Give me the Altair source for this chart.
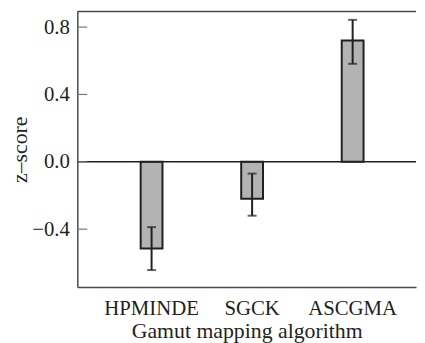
import altair as alt
import pandas as pd

categories = ["HPMINDE", "SGCK", "ASCGMA"]
means = [-0.515, -0.219, 0.72]
err_low = [-0.643, -0.32, 0.582]
err_high = [-0.388, -0.07, 0.843]
y_ticks = [-0.4, 0.0, 0.4, 0.8]
y_domain = [-0.743, 0.892]

df = pd.DataFrame({"cat": categories, "mean": means, "lo": err_low, "hi": err_high})
ticks_df = pd.DataFrame({"v": y_ticks})

FONT = "Liberation Serif"
DARK = "#231f20"
FRAME = "#4a4a4a"
W, H = 342, 278

xenc = alt.X("cat:N", sort=categories,
             scale=alt.Scale(paddingInner=0.783, paddingOuter=0.576, align=0.547),
             axis=alt.Axis(title="Gamut mapping algorithm", labelAngle=0, ticks=False,
                           domain=True, domainColor=FRAME, domainWidth=1.5,
                           labelPadding=11, titlePadding=2,
                           labelFont=FONT, titleFont=FONT, labelFontSize=21,
                           titleFontSize=22, titleFontWeight="normal",
                           labelColor=DARK, titleColor=DARK))
yscale = alt.Scale(domain=y_domain, nice=False, zero=False)

bars = alt.Chart(df).mark_bar(fill="#b3b3b3", stroke=DARK, strokeWidth=2).encode(
    x=xenc,
    y=alt.Y("mean:Q", scale=yscale,
            axis=alt.Axis(title="z–score", values=y_ticks, format=".1f", ticks=False,
                          grid=False, domain=True, domainColor=FRAME, domainWidth=1.5,
                          labelPadding=8, titlePadding=0,
                          labelFont=FONT, titleFont=FONT, labelFontSize=21,
                          titleFontSize=22, titleFontWeight="normal",
                          labelColor=DARK, titleColor=DARK)),
    y2=alt.datum(0),
)

err = alt.Chart(df).mark_rule(color=DARK, strokeWidth=2).encode(
    x=alt.X("cat:N", sort=categories), y=alt.Y("lo:Q", scale=yscale), y2="hi:Q")
cap_lo = alt.Chart(df).mark_tick(color=DARK, thickness=2, size=9, orient="horizontal").encode(
    x=alt.X("cat:N", sort=categories), y=alt.Y("lo:Q", scale=yscale))
cap_hi = alt.Chart(df).mark_tick(color=DARK, thickness=2, size=9, orient="horizontal").encode(
    x=alt.X("cat:N", sort=categories), y=alt.Y("hi:Q", scale=yscale))

zero = alt.Chart(pd.DataFrame({"z": [0.0]})).mark_rule(color=DARK, strokeWidth=1.5).encode(
    y=alt.Y("z:Q", scale=yscale), x=alt.value(0), x2=alt.value(W))
top = alt.Chart(pd.DataFrame({"t": [y_domain[1]]})).mark_rule(color=FRAME, strokeWidth=1.5).encode(
    y=alt.Y("t:Q", scale=yscale), x=alt.value(0), x2=alt.value(W))
yt = alt.Chart(ticks_df).mark_rule(color="#777777", strokeWidth=1.2).encode(
    y=alt.Y("v:Q", scale=yscale), x=alt.value(0), x2=alt.value(10))

chart = alt.layer(bars, err, cap_lo, cap_hi, zero, top, yt).properties(
    width=W, height=H, background="white",
    padding={"left": 0, "top": 1, "right": 0, "bottom": 0},
).configure_view(stroke="transparent", strokeWidth=0)

chart.save("out.html", embed_options={"renderer": "svg", "actions": False})
